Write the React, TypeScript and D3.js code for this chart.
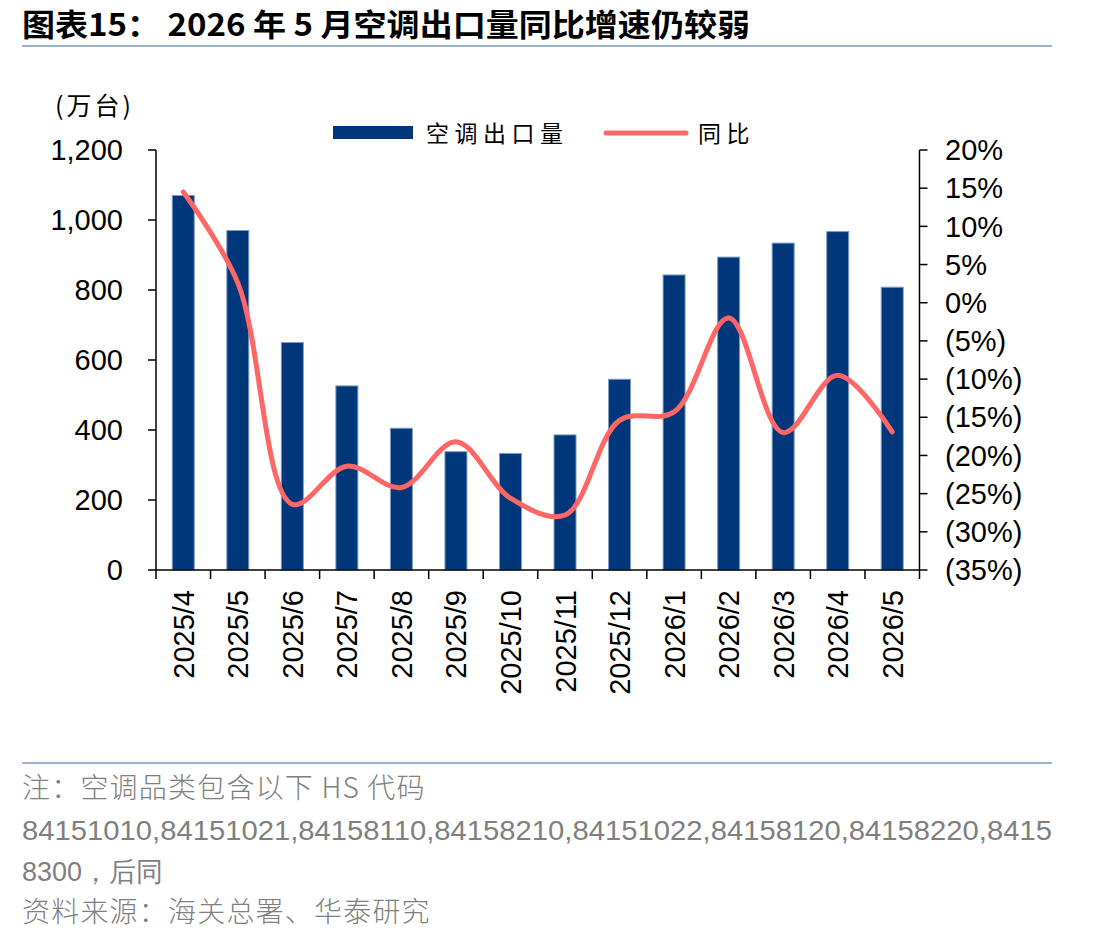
import React from "react";
import * as d3 from "d3";

const months = [
  "2025/4", "2025/5", "2025/6", "2025/7", "2025/8", "2025/9", "2025/10",
  "2025/11", "2025/12", "2026/1", "2026/2", "2026/3", "2026/4", "2026/5",
];
// 空调出口量（万台）
const exportVolume = [1070, 970, 650, 526, 405, 338, 333, 386, 545, 843, 894, 934, 967, 808];
// 同比（%）
const yoyGrowth = [14.5, 2.6, -26.4, -21.4, -24.2, -18.2, -25.6, -27.8, -15.4, -14.3, -2.0, -17.0, -9.5, -16.9];

const leftTicks = [0, 200, 400, 600, 800, 1000, 1200];
const rightTicks = [20, 15, 10, 5, 0, -5, -10, -15, -20, -25, -30, -35];

const noteLines = [
  "注：空调品类包含以下 HS 代码",
  "84151010,84151021,84158110,84158210,84151022,84158120,84158220,8415",
  "8300，后同",
  "资料来源：海关总署、华泰研究",
];

const W = 1108;
const H = 943;
const plot = { left: 156, right: 919.5, top: 150, bottom: 570 };

const BAR_FILL = "#00377A";
const BAR_EDGE = "#7F9CC4";
const LINE_COLOR = "#FF6666";
const RULE_COLOR = "#9DB3D3";
const NUM_FONT = "'Liberation Sans', Arial, sans-serif";
const CJK_FONT = "'Noto Sans CJK SC', 'Noto Sans', sans-serif";
const AXIS_SIZE = 29;

const fmtLeft = d3.format(",");
const fmtRight = (v: number) => (v < 0 ? `(${Math.abs(v)}%)` : `${v}%`);

export default function App() {
  const band = d3.scaleBand<string>().domain(months).range([plot.left, plot.right]);
  const yL = d3.scaleLinear().domain([0, 1200]).range([plot.bottom, plot.top]);
  const yR = d3.scaleLinear().domain([-35, 20]).range([plot.bottom, plot.top]);

  const bw = 22;
  const center = (m: string) => (band(m) as number) + band.bandwidth() / 2;

  const linePath = d3
    .line<number>()
    .x((_, i) => center(months[i]))
    .y((v) => yR(v))
    .curve(d3.curveCatmullRom.alpha(0.5))(yoyGrowth) as string;

  const boundaries = months.map((m) => band(m) as number).concat([plot.right]);

  return (
    <svg
      width={W}
      height={H}
      viewBox={`0 0 ${W} ${H}`}
      style={{ position: "absolute", left: 0, top: 0, background: "#fff" }}
    >
      {/* title */}
      <text
        x={22}
        y={36}
        fontFamily={CJK_FONT}
        fontWeight={700}
        fontSize={31}
        fill="#000"
        textLength={728}
        lengthAdjust="spacingAndGlyphs"
      >
        图表15：&#160;2026 年 5 月空调出口量同比增速仍较弱
      </text>
      <line x1={22} x2={1052} y1={46} y2={46} stroke={RULE_COLOR} strokeWidth={2} />

      {/* unit */}
      <text x={55} y={115} fontFamily={CJK_FONT} fontSize={25} letterSpacing={3} fill="#000">
        (万台)
      </text>

      {/* legend */}
      <rect x={333} y={126} width={80} height={13} fill={BAR_FILL} />
      <text x={426} y={142} fontFamily={CJK_FONT} fontSize={23} letterSpacing={5.5} fill="#000">
        空调出口量
      </text>
      <line x1={606} x2={686} y1={133} y2={133} stroke={LINE_COLOR} strokeWidth={5} strokeLinecap="round" />
      <text x={698} y={142} fontFamily={CJK_FONT} fontSize={23} letterSpacing={5.5} fill="#000">
        同比
      </text>

      {/* bars */}
      {months.map((m, i) => (
        <rect
          key={m}
          x={center(m) - bw / 2}
          y={yL(exportVolume[i])}
          width={bw}
          height={yL(0) - yL(exportVolume[i])}
          fill={BAR_FILL}
          stroke={BAR_EDGE}
          strokeWidth={1}
        />
      ))}

      {/* yoy line */}
      <path d={linePath} fill="none" stroke={LINE_COLOR} strokeWidth={5} strokeLinecap="round" strokeLinejoin="round" />

      {/* left axis */}
      <line x1={plot.left} x2={plot.left} y1={plot.top} y2={plot.bottom} stroke="#000" strokeWidth={1.5} />
      {leftTicks.map((t) => (
        <g key={`l${t}`}>
          <line x1={plot.left - 8} x2={plot.left} y1={yL(t)} y2={yL(t)} stroke="#000" strokeWidth={1.5} />
          <text x={123} y={yL(t)} dy="0.35em" textAnchor="end" fontFamily={NUM_FONT} fontSize={AXIS_SIZE} fill="#000">
            {fmtLeft(t)}
          </text>
        </g>
      ))}

      {/* right axis */}
      <line x1={plot.right} x2={plot.right} y1={plot.top} y2={plot.bottom} stroke="#000" strokeWidth={1.5} />
      {rightTicks.map((t) => (
        <g key={`r${t}`}>
          <line x1={plot.right} x2={plot.right + 8} y1={yR(t)} y2={yR(t)} stroke="#000" strokeWidth={1.5} />
          <text x={945} y={yR(t)} dy="0.35em" textAnchor="start" fontFamily={NUM_FONT} fontSize={AXIS_SIZE} fill="#000">
            {fmtRight(t)}
          </text>
        </g>
      ))}

      {/* x axis */}
      <line x1={plot.left} x2={plot.right} y1={plot.bottom} y2={plot.bottom} stroke="#000" strokeWidth={1.5} />
      {boundaries.map((bx, i) => (
        <line key={`t${i}`} x1={bx} x2={bx} y1={plot.bottom} y2={plot.bottom + 9} stroke="#000" strokeWidth={1.5} />
      ))}
      {months.map((m) => (
        <text
          key={`x${m}`}
          transform={`translate(${center(m) + 10.5},590) rotate(-90)`}
          textAnchor="end"
          fontFamily={NUM_FONT}
          fontSize={AXIS_SIZE}
          fill="#000"
        >
          {m}
        </text>
      ))}

      {/* notes */}
      <line x1={22} x2={1052} y1={763} y2={763} stroke={RULE_COLOR} strokeWidth={2} />
      {noteLines.map((s, i) => {
        const numeric = i === 1 || i === 2;
        return (
          <text
            key={`n${i}`}
            x={22}
            y={[798, 840, 881, 922][i]}
            fontFamily={numeric ? NUM_FONT : CJK_FONT}
            fontSize={numeric ? 27 : 28}
            letterSpacing={numeric ? 0 : 1.2}
            fontWeight={300}
            fill="#7F7F7F"
            textLength={i === 1 ? 1030 : undefined}
            lengthAdjust={i === 1 ? "spacingAndGlyphs" : undefined}
          >
            {s}
          </text>
        );
      })}
    </svg>
  );
}
